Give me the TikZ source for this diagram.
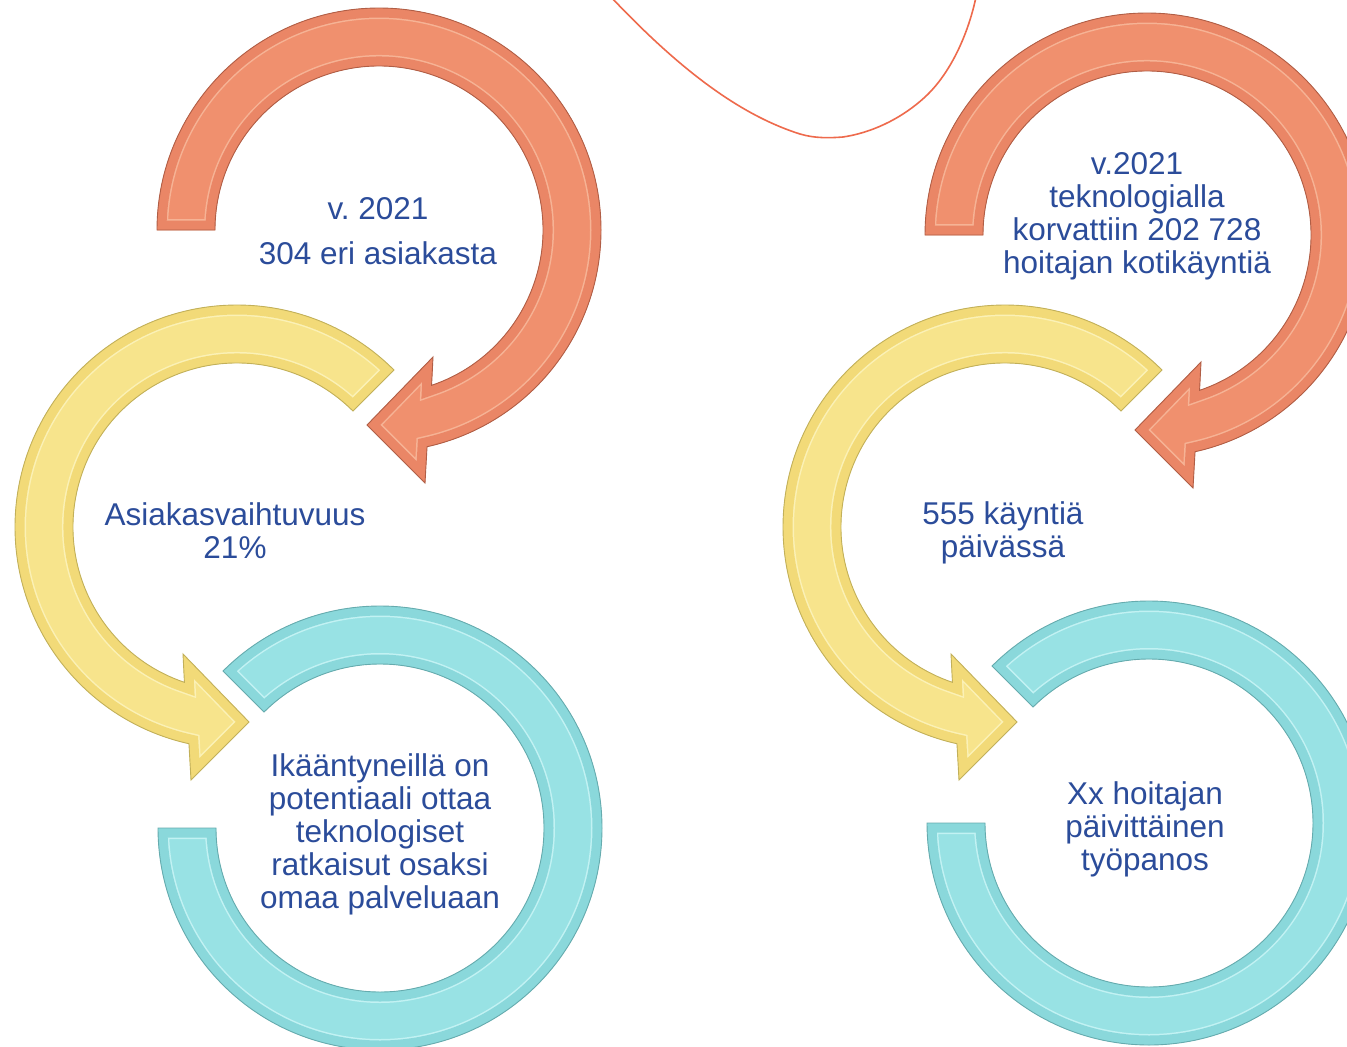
\documentclass[tikz,border=0pt]{standalone}
\usepackage{fontspec}
\setmainfont{Liberation Sans}
\definecolor{txt}{HTML}{2B4C9A}
\definecolor{redface}{HTML}{F0906E}
\definecolor{redband}{HTML}{EA8666}
\definecolor{redhl}{HTML}{F6B395}
\definecolor{rededge}{HTML}{B05E46}
\definecolor{yelface}{HTML}{F7E48C}
\definecolor{yelband}{HTML}{F2DA78}
\definecolor{yelhl}{HTML}{FBF1B6}
\definecolor{yeledge}{HTML}{C2B05A}
\definecolor{tealface}{HTML}{98E2E4}
\definecolor{tealband}{HTML}{8AD8DB}
\definecolor{tealhl}{HTML}{C2F2F3}
\definecolor{tealedge}{HTML}{66ABAE}
\definecolor{curvecol}{HTML}{EE6A4C}
% arrow shape in its own frame (centre at origin, pixel angles)
\newcommand{\arrowpath}[1]{(#1:222) arc[start angle=#1, end angle=437.5, radius=222] -- (46,253) -- (-12,195) -- (54,127) -- (71.3:164) arc[start angle=431.3, end angle=#1, radius=164] -- cycle}
\newcommand{\ringpath}{(-135:222) arc[start angle=-135, end angle=180, radius=222] -- (180:164) arc[start angle=180, end angle=-135, radius=164] -- cycle}
\newcommand{\bevshape}[5]{%
  \fill[#2] #1;
  \begin{scope}
    \clip #1;
    \draw[#4, line width=22] #1;
    \draw[#3, line width=19] #1;
  \end{scope}
  \draw[#5, line width=0.9] #1;}
\tikzset{
  lbl/.style={text=txt, font=\fontsize{31.5}{33}\selectfont, align=center, inner sep=0pt},
  thincurve/.style={draw=curvecol, line width=1.6, line cap=round},
}
\begin{document}
\frenchspacing
\begin{tikzpicture}[x=1pt, y=-1pt]
\useasboundingbox (0,0) rectangle (1347,1047);
\fill[white] (0,0) rectangle (1347,1047);
\clip (0,0) rectangle (1347,1047);

% thin curve at top
\coordinate (c0) at (611,-3);
\coordinate (c1) at (800,134);
\coordinate (c2) at (843,137);
\coordinate (c3) at (925,97);
\coordinate (c4) at (976,-3);
\draw[thincurve] (c0) .. controls (680,70) and (740,115) .. (c1)
  .. controls (815,138.5) and (830,138) .. (c2)
  .. controls (870,133) and (900,120) .. (c3)
  .. controls (950,74) and (968,35) .. (c4);

% ---------- left set ----------
\begin{scope}[shift={(380,828)}]
  \bevshape{\ringpath}{tealface}{tealband}{tealhl}{tealedge}
\end{scope}
\begin{scope}[shift={(237,527)}, xscale=-1]
  \bevshape{\arrowpath{225}}{yelface}{yelband}{yelhl}{yeledge}
\end{scope}
\begin{scope}[shift={(379,230)}]
  \bevshape{\arrowpath{180}}{redface}{redband}{redhl}{rededge}
\end{scope}

% ---------- right set ----------
\begin{scope}[shift={(1149,823)}]
  \bevshape{\ringpath}{tealface}{tealband}{tealhl}{tealedge}
\end{scope}
\begin{scope}[shift={(1005,527)}, xscale=-1]
  \bevshape{\arrowpath{225}}{yelface}{yelband}{yelhl}{yeledge}
\end{scope}
\begin{scope}[shift={(1147,235)}]
  \bevshape{\arrowpath{180}}{redface}{redband}{redhl}{rededge}
\end{scope}

% ---------- texts ----------
\node[lbl] (t1) at (378,231) {v. 2021\\[12pt]304 eri asiakasta};
\node[lbl] (t2) at (235,531) {Asiakasvaihtuvuus\\21\%};
\node[lbl] (t3) at (380,834) {Ikääntyneillä on\\potentiaali ottaa\\teknologiset\\ratkaisut osaksi\\omaa palveluaan};
\node[lbl] (t4) at (1137,216) {v.2021\\teknologialla\\korvattiin 202 728\\hoitajan kotikäyntiä};
\node[lbl] (t5) at (1003,533) {555 käyntiä\\päivässä};
\node[lbl] (t6) at (1145,829) {Xx hoitajan\\päivittäinen\\työpanos};
\end{tikzpicture}
\end{document}
